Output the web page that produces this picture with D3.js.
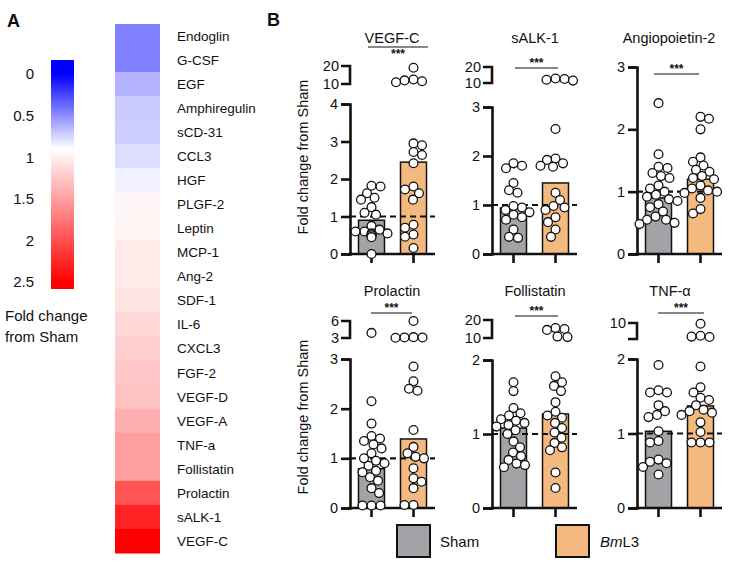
<!DOCTYPE html>
<html>
<head>
<meta charset="utf-8">
<script src="https://cdn.jsdelivr.net/npm/d3@7"></script>
<style>
body { margin: 0; background: #fff; }
text { font-family: "Liberation Sans", Arial, sans-serif; fill: #111; }
</style>
</head>
<body>
<svg width="736" height="564"></svg>
<script>
// ---- data, panel A ----
var cytokines = ["Endoglin", "G-CSF", "EGF", "Amphiregulin", "sCD-31", "CCL3", "HGF", "PLGF-2",
  "Leptin", "MCP-1", "Ang-2", "SDF-1", "IL-6", "CXCL3", "FGF-2", "VEGF-D", "VEGF-A", "TNF-a",
  "Follistatin", "Prolactin", "sALK-1", "VEGF-C"];
var foldChange = [0.45, 0.45, 0.63, 0.71, 0.72, 0.78, 0.85, 0.95, 0.96, 1.03, 1.04, 1.07, 1.15,
  1.21, 1.25, 1.28, 1.40, 1.50, 1.50, 1.97, 2.28, 2.50];
var colorbarTicks = [0, 0.5, 1, 1.5, 2, 2.5];

// ---- data, panel B ----
var groups = ["Sham", "BmL3"];
var titles = ["VEGF-C", "sALK-1", "Angiopoietin-2", "Prolactin", "Follistatin", "TNF-\u03b1"];
var shamMeans = [0.90, 0.94, 0.90, 0.79, 1.08, 1.03];
var bmMeans = [2.45, 1.45, 1.20, 1.39, 1.27, 1.37];
var lowerMax = [4, 3, 3, 3, 2, 2];
var upperRange = [[10, 20], [10, 20], null, [3, 6], [10, 20], [6, 10]];
var upperLabels = [[10, 20], [10, 20], [], [3, 6], [10, 20], [10]];

var vegfcSham = [1.82, 1.8, 1.62, 1.5, 1.45, 1.25, 1.1, 1.05, 0.75, 0.65, 0.6, 0.55, 0.55, 0.5, 0.5, 0.5, 0.45, 0.6, 0.0];
var vegfcBm = [19, 12.5, 12, 11.5, 11, 2.95, 2.9, 2.72, 2.64, 2.42, 1.8, 1.72, 1.62, 1.45, 0.78, 0.7, 0.52, 0.46, 0.16];
var salk1Sham = [1.85, 1.8, 1.75, 1.45, 1.3, 1.25, 0.98, 0.95, 0.9, 0.85, 0.8, 0.75, 0.7, 0.5, 0.35, 0.33];
var salk1Bm = [12.5, 12, 11.5, 12.8, 2.55, 1.95, 1.92, 1.85, 1.8, 1.78, 1.25, 1.1, 0.98, 0.95, 0.9, 0.75, 0.65, 0.5, 0.35];
var ang2Sham = [2.42, 1.6, 1.4, 1.38, 1.3, 1.25, 1.22, 1.1, 1.05, 1.0, 0.95, 0.92, 0.88, 0.85, 0.8, 0.75, 0.68, 0.6, 0.55, 0.55, 0.5, 0.48];
var ang2Bm = [2.2, 2.17, 2.0, 1.55, 1.48, 1.42, 1.35, 1.32, 1.25, 1.22, 1.2, 1.1, 1.05, 1.02, 1.0, 0.98, 0.9, 0.72, 0.65];
var prolSham = [3.9, 2.15, 1.7, 1.45, 1.4, 1.35, 1.28, 1.2, 1.1, 1.0, 0.95, 0.9, 0.85, 0.75, 0.72, 0.62, 0.55, 0.4, 0.3, 0.05, 0.05, 0.05];
var prolBm = [6, 3.15, 3.1, 3.1, 3.05, 2.85, 2.55, 2.4, 2.36, 1.57, 1.23, 1.1, 1.03, 1.0, 0.8, 0.6, 0.53, 0.4, 0.06, 0.06];
var follSham = [1.7, 1.58, 1.35, 1.28, 1.25, 1.2, 1.18, 1.15, 1.12, 1.1, 1.05, 1.0, 0.9, 0.82, 0.75, 0.7, 0.65, 0.6, 0.55, 0.58];
var follBm = [15.5, 15, 14.5, 10.8, 10.5, 1.78, 1.7, 1.65, 1.58, 1.43, 1.3, 1.25, 1.22, 1.15, 1.08, 1.02, 0.95, 0.88, 0.82, 0.78, 0.48, 0.27];
var tnfSham = [1.92, 1.58, 1.55, 1.55, 1.38, 1.3, 1.25, 1.22, 1.03, 0.9, 0.88, 0.65, 0.62, 0.6, 0.55, 0.45];
var tnfBm = [9.8, 6.8, 6.6, 6.5, 1.9, 1.62, 1.55, 1.48, 1.45, 1.38, 1.32, 1.3, 1.28, 1.25, 1.15, 1.02, 0.88, 0.88, 0.88];

var shamPoints = [vegfcSham, salk1Sham, ang2Sham, prolSham, follSham, tnfSham];
var bmPoints = [vegfcBm, salk1Bm, ang2Bm, prolBm, follBm, tnfBm];

var svg = d3.select("svg");
var barColors = ["#a3a3a7", "#f4b97e"];

// ---- panel A ----
svg.append("text").attr("x", 7).attr("y", 27).attr("font-size", 18)
  .attr("font-weight", "bold").text("A");

var color = d3.scaleLinear().domain([0, 0.9, 2.5])
  .range(["#0000ff", "#ffffff", "#ff0000"]).clamp(true);

var cbTop = 60, cbBot = 289;
var cbY = d3.scaleLinear().domain([0, 2.5]).range([74, 282]);
var grad = svg.append("defs").append("linearGradient").attr("id", "cbar")
  .attr("x1", 0).attr("x2", 0).attr("y1", 0).attr("y2", 1);
color.domain().forEach(function(v) {
  grad.append("stop").attr("offset", (cbY(v) - cbTop) / (cbBot - cbTop))
    .attr("stop-color", color(v));
});
svg.append("rect").attr("x", 51).attr("y", cbTop).attr("width", 23)
  .attr("height", cbBot - cbTop).attr("fill", "url(#cbar)");

svg.selectAll(".cbt").data(colorbarTicks).enter().append("text")
  .attr("x", 34).attr("y", function(d) { return cbY(d); }).attr("dy", "0.36em")
  .attr("text-anchor", "end").attr("font-size", 15).text(function(d) { return d; });

svg.append("text").attr("x", 5).attr("y", 321).attr("font-size", 15).text("Fold change");
svg.append("text").attr("x", 5).attr("y", 342).attr("font-size", 15).text("from Sham");

var rowY = d3.scaleBand().domain(cytokines).range([24, 553]);
svg.selectAll(".cell").data(cytokines).enter().append("rect")
  .attr("x", 115).attr("y", function(d) { return rowY(d); })
  .attr("width", 45).attr("height", rowY.bandwidth() + 0.5)
  .attr("fill", function(d, i) { return color(foldChange[i]); });
svg.selectAll(".rowlab").data(cytokines).enter().append("text")
  .attr("x", 177).attr("y", function(d) { return rowY(d) + rowY.bandwidth() / 2; })
  .attr("dy", "0.36em").attr("font-size", 13.5).attr("fill", "#1a1a1a")
  .text(function(d) { return d; });

// ---- panel B ----
svg.append("text").attr("x", 267).attr("y", 26).attr("font-size", 18)
  .attr("font-weight", "bold").text("B");

var colX = [350, 492, 637], baseY = [254, 508], titleY = [43, 296];
var layout = [
  { c: 0, r: 0, top: 104, up: [84, 66], tx: 42, line: 47, stars: 58, lx: [18, 78] },
  { c: 1, r: 0, top: 107, up: [83, 67], tx: 43, line: 68, stars: 67, lx: [23, 66] },
  { c: 2, r: 0, top: 67, up: null, tx: 32, line: 74, stars: 73, lx: [17, 62] },
  { c: 0, r: 1, top: 359, up: [338, 321], tx: 42, line: 313, stars: 312, lx: [21, 62] },
  { c: 1, r: 1, top: 360, up: [338, 320], tx: 43, line: 316, stars: 315, lx: [23, 66] },
  { c: 2, r: 1, top: 359, up: [339, 323], tx: 33, line: 313, stars: 312, lx: [21, 67] }
];
var axisLen = 85, barW = 26, rad = 4.4;
var x = d3.scalePoint().domain(groups).range([21.5, 63.5]);

function swarm(vals, y, minD) {
  var pts = vals.map(function(v) { return { v: v, y: y(v) }; })
    .sort(function(a, b) { return a.y - b.y; });
  var placed = [];
  pts.forEach(function(p, i) {
    var sgn = i % 2 ? 1 : -1;
    p.dx = 0;
    for (var k = 0; k < 80; k++) {
      var dx = sgn * (k % 2 ? 1 : -1) * Math.ceil(k / 2) * 0.5;
      var ok = placed.every(function(q) {
        return (q.dx - dx) * (q.dx - dx) + (q.y - p.y) * (q.y - p.y) >= minD * minD;
      });
      if (ok) { p.dx = dx; break; }
    }
    placed.push(p);
  });
  return placed;
}

layout.forEach(function(L, i) {
  var g = svg.append("g").attr("transform", "translate(" + colX[L.c] + ",0)");
  var y0 = baseY[L.r];
  var y = d3.scaleLinear().domain([0, lowerMax[i]]).range([y0, L.top]);
  var yu = upperRange[i] ? d3.scaleLinear().domain(upperRange[i]).range(L.up) : null;

  // title and significance
  g.append("text").attr("x", L.tx).attr("y", titleY[L.r]).attr("text-anchor", "middle")
    .attr("font-size", 14.5).text(titles[i]);
  g.append("line").attr("x1", L.lx[0]).attr("x2", L.lx[1]).attr("y1", L.line).attr("y2", L.line)
    .attr("stroke", "#111").attr("stroke-width", 1.2);
  g.append("text").attr("x", (L.lx[0] + L.lx[1]) / 2).attr("y", L.stars).attr("text-anchor", "middle")
    .attr("font-size", 12).attr("font-weight", "bold").text("***");

  // bars
  var means = [shamMeans[i], bmMeans[i]];
  g.selectAll(".bar").data(groups).enter().append("rect")
    .attr("x", function(d) { return x(d) - barW / 2; })
    .attr("y", function(d, j) { return y(means[j]); })
    .attr("width", barW)
    .attr("height", function(d, j) { return y0 - y(means[j]); })
    .attr("fill", function(d, j) { return barColors[j]; })
    .attr("stroke", "#111").attr("stroke-width", 1.5);

  // reference line at 1
  g.append("line").attr("x1", 0).attr("x2", axisLen).attr("y1", y(1)).attr("y2", y(1))
    .attr("stroke", "#111").attr("stroke-width", 2.2).attr("stroke-dasharray", "6,4");

  // y axis (lower segment)
  var ax = d3.axisLeft(y).tickValues(d3.range(0, lowerMax[i] + 1)).tickSize(9)
    .tickPadding(3).tickFormat(d3.format("d"));
  var ag = g.append("g").call(ax);
  ag.select(".domain").attr("stroke-width", 2.6).attr("stroke", "#111");
  ag.selectAll(".tick line").attr("stroke-width", 2.6).attr("stroke", "#111");
  ag.selectAll("text").attr("font-size", 14.5).attr("fill", "#111")
    .attr("font-family", "Liberation Sans, Arial, sans-serif");

  // upper broken segment
  if (yu) {
    g.append("path")
      .attr("d", "M-9," + yu.range()[1] + "H0V" + yu.range()[0] + "H-9")
      .attr("fill", "none").attr("stroke", "#111").attr("stroke-width", 2.6);
    g.selectAll(".ul").data(upperLabels[i]).enter().append("text")
      .attr("x", -11).attr("y", function(d) { return yu(d); }).attr("dy", "0.36em")
      .attr("text-anchor", "end").attr("font-size", 14.5).text(function(d) { return d; });
  }

  // x axis
  g.append("line").attr("x1", -1.3).attr("x2", axisLen).attr("y1", y0).attr("y2", y0)
    .attr("stroke", "#111").attr("stroke-width", 2.6);
  g.selectAll(".xt").data(groups).enter().append("line")
    .attr("x1", function(d) { return x(d); }).attr("x2", function(d) { return x(d); })
    .attr("y1", y0).attr("y2", y0 + 9).attr("stroke", "#111").attr("stroke-width", 2.6);

  // points
  [shamPoints[i], bmPoints[i]].forEach(function(vals, j) {
    var lo = vals.filter(function(v) { return v <= lowerMax[i]; });
    var hi = vals.filter(function(v) { return v > lowerMax[i]; });
    var pts = swarm(lo, y, 8.6);
    if (yu) pts = pts.concat(swarm(hi, yu, 8.6));
    g.selectAll(".pt" + j).data(pts).enter().append("circle")
      .attr("cx", function(d) { return x(groups[j]) + d.dx; })
      .attr("cy", function(d) { return d.y; })
      .attr("r", rad).attr("fill", "#fff").attr("stroke", "#111").attr("stroke-width", 1.3);
  });
});

// y axis titles
baseY.forEach(function(b, r) {
  svg.append("text").attr("transform", "translate(308," + (r ? 417 : 157) + ") rotate(-90)")
    .attr("text-anchor", "middle").attr("font-size", 14.5).text("Fold change from Sham");
});

// legend
var legX = [397, 556];
svg.selectAll(".legbox").data(groups).enter().append("rect")
  .attr("x", function(d, j) { return legX[j]; }).attr("y", 525)
  .attr("width", 33).attr("height", 32)
  .attr("fill", function(d, j) { return barColors[j]; })
  .attr("stroke", "#111").attr("stroke-width", 2);
svg.append("text").attr("x", 440).attr("y", 547).attr("font-size", 15).text("Sham");
var bmText = svg.append("text").attr("x", 600).attr("y", 547).attr("font-size", 15);
bmText.append("tspan").attr("font-style", "italic").text("Bm");
bmText.append("tspan").text("L3");
</script>
</body>
</html>
